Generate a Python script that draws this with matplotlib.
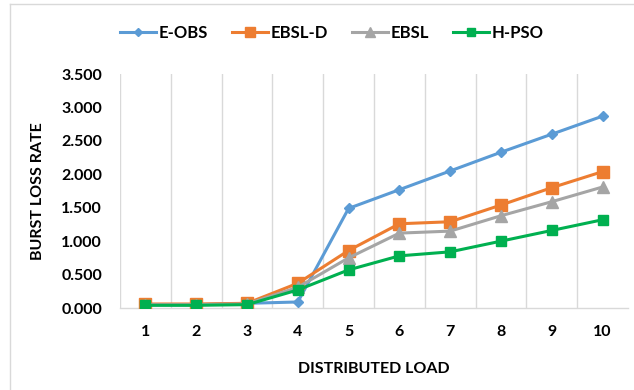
import matplotlib
matplotlib.use('Agg')
import matplotlib.pyplot as plt
from matplotlib.lines import Line2D

# data
loads = [1, 2, 3, 4, 5, 6, 7, 8, 9, 10]
e_obs = [0.05, 0.05, 0.07, 0.09, 1.49, 1.77, 2.05, 2.33, 2.60, 2.87]
ebsl_d = [0.06, 0.06, 0.07, 0.37, 0.86, 1.26, 1.29, 1.54, 1.80, 2.04]
ebsl = [0.05, 0.05, 0.06, 0.31, 0.75, 1.12, 1.15, 1.38, 1.59, 1.81]
h_pso = [0.04, 0.04, 0.05, 0.27, 0.57, 0.78, 0.84, 1.00, 1.16, 1.32]
y_ticks = [0.0, 0.5, 1.0, 1.5, 2.0, 2.5, 3.0, 3.5]

plt.rcParams['font.family'] = ['Lato', 'DejaVu Sans']
plt.rcParams['font.weight'] = 'bold'

fig = plt.figure(figsize=(6.34, 3.9), dpi=100)
ax = fig.add_axes([120 / 634, 1 - 308 / 390, 508 / 634, 234 / 390])

# series styles (Excel default palette)
series = [
    ('E-OBS', e_obs, '#5B9BD5', 'D', 5.5, 4.5),
    ('EBSL-D', ebsl_d, '#ED7D31', 's', 8.5, 6.5),
    ('EBSL', ebsl, '#A5A5A5', '^', 8, 6.5),
    ('H-PSO', h_pso, '#00B050', 's', 6.5, 5.5),
]
for name, vals, col, mk, ms, _ in series:
    ax.plot(loads, vals, color=col, lw=2.2, marker=mk, markersize=ms,
            markerfacecolor=col, markeredgecolor=col, label=name, zorder=3)

ax.set_xlim(0.5, 10.5)
ax.set_ylim(0, 3.5)
ax.set_xticks(loads)
ax.set_yticks(y_ticks)
ax.set_yticklabels([f"{v:.3f}" for v in y_ticks])

# vertical gridlines between categories
for xb in [0.5, 1.5, 2.5, 3.5, 4.5, 5.5, 6.5, 7.5, 8.5, 9.5]:
    ax.axvline(xb, color='#D9D9D9', lw=1, zorder=0)

for s in ['top', 'right', 'left']:
    ax.spines[s].set_visible(False)
ax.spines['bottom'].set_color('#D9D9D9')
ax.spines['bottom'].set_linewidth(1)
ax.tick_params(axis='both', length=0, labelsize=11.5, colors='black')
ax.tick_params(axis='x', pad=12)
ax.tick_params(axis='y', pad=13)
for lab in ax.get_xticklabels() + ax.get_yticklabels():
    lab.set_fontweight('bold')

ax.set_xlabel('DISTRIBUTED LOAD', fontsize=11.5, fontweight='bold')
ax.set_ylabel('BURST LOSS RATE', fontsize=11.5, fontweight='bold')
ax.xaxis.set_label_coords(0.5, -(362 - 308) / 234)
ax.yaxis.set_label_coords((45 - 120) / 508, 0.5)

leg = fig.legend(loc='center', bbox_to_anchor=(332 / 634, 1 - 33 / 390), ncol=4,
                 frameon=False, fontsize=12, handlelength=2.15, columnspacing=1.45,
                 handletextpad=0.15)
for t in leg.get_texts():
    t.set_fontweight('bold')
for h, (_, _, _, _, _, lms) in zip(leg.legend_handles, series):
    h.set_markersize(lms)

# outer chart frame (left and top edges visible)
fig.add_artist(Line2D([10 / 634, 10 / 634], [0, 1 - 4 / 390], color='#D9D9D9', lw=1))
fig.add_artist(Line2D([10 / 634, 1], [1 - 4 / 390, 1 - 4 / 390], color='#D9D9D9', lw=1))

fig.savefig('out.png', dpi=100)
plt.close(fig)
